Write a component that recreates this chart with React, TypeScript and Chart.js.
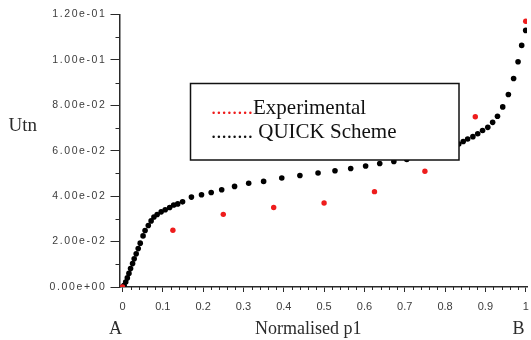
import React, { useEffect, useRef } from 'react';
import { Chart, registerables, LinearScale } from 'chart.js';

// Normalised position along p1 (A -> B)
const quickX = [
  0, 0.004, 0.008, 0.012, 0.016, 0.02, 0.025, 0.029, 0.034, 0.039, 0.044, 0.051, 0.056, 0.064,
  0.071, 0.078, 0.086, 0.096, 0.106, 0.117, 0.127, 0.137, 0.149, 0.171, 0.196, 0.22, 0.246,
  0.278, 0.313, 0.35, 0.395, 0.44, 0.485, 0.527, 0.566, 0.603, 0.638, 0.673, 0.705, 0.734,
  0.76, 0.783, 0.803, 0.82, 0.834, 0.845, 0.856, 0.869, 0.881, 0.893, 0.906, 0.918, 0.93,
  0.943, 0.957, 0.97, 0.981, 0.99, 1.0,
];
// QUICK scheme prediction of Utn
const quickUtn = [
  0, 0.0008, 0.0022, 0.004, 0.006, 0.0081, 0.0103, 0.0124, 0.0146, 0.0169, 0.0193, 0.0225,
  0.0249, 0.0271, 0.0291, 0.0308, 0.0319, 0.0331, 0.034, 0.035, 0.0361, 0.0366, 0.0375, 0.0396,
  0.0406, 0.0416, 0.0428, 0.0443, 0.0457, 0.0465, 0.048, 0.0491, 0.0502, 0.0512, 0.0522, 0.0533,
  0.0544, 0.0553, 0.0562, 0.0572, 0.0582, 0.0593, 0.0605, 0.0618, 0.063, 0.0641, 0.0652, 0.0662,
  0.0675, 0.0689, 0.0703, 0.0725, 0.0752, 0.0793, 0.0848, 0.0918, 0.0992, 0.1064, 0.113,
];
// Experimental measurements
const expX = [0, 0.125, 0.25, 0.375, 0.5, 0.625, 0.75, 0.875, 1.0];
const expUtn = [0, 0.025, 0.032, 0.035, 0.037, 0.042, 0.051, 0.075, 0.117];

const xTickValues = [0, 0.1, 0.2, 0.3, 0.4, 0.5, 0.6, 0.7, 0.8, 0.9, 1];
const xTickLabels = ['0', '0.1', '0.2', '0.3', '0.4', '0.5', '0.6', '0.7', '0.8', '0.9', '1'];
const yTickValues = [0, 0.02, 0.04, 0.06, 0.08, 0.1, 0.12];
const yTickLabels = ['0.00e+00', '2.00e-02', '4.00e-02', '6.00e-02', '8.00e-02', '1.00e-01', '1.20e-01'];
const xMinorStep = 0.02;
const yMinorStep = 0.01;

const legendLines = [
  { dots: '........', dotColor: '#ee1c1c', text: 'Experimental' },
  { dots: '........', dotColor: '#111111', text: ' QUICK Scheme' },
];

const RED = '#ee1c1c';
const AXIS = '#2a2a2a';
const SERIF = '"Liberation Serif", "Times New Roman", serif';
const SANS = '"Liberation Sans", Arial, sans-serif';

// Linear scale whose tick labels are drawn with extra letter spacing
class SpacedLinearScale extends LinearScale {
  static id = 'spacedLinear';
  static defaults = LinearScale.defaults;
  drawLabels(area: any) {
    const ctx: any = this.ctx;
    ctx.save();
    ctx.letterSpacing = (this.options as any).labelSpacing || '0px';
    super.drawLabels(area);
    ctx.restore();
  }
}

Chart.register(...registerables, SpacedLinearScale);

const overlayPlugin = {
  id: 'overlay',
  afterDatasetsDraw(chart: any) {
    const ctx = chart.ctx;
    // legend box
    ctx.save();
    ctx.fillStyle = '#ffffff';
    ctx.fillRect(190.5, 83.5, 268.5, 76.5);
    ctx.strokeStyle = '#111';
    ctx.lineWidth = 1.5;
    ctx.strokeRect(190.5, 83.5, 268.5, 76.5);
    ctx.font = `21px ${SERIF}`;
    ctx.textBaseline = 'alphabetic';
    legendLines.forEach((ln, i) => {
      const y = 114 + i * 24.3;
      let x = 211;
      ctx.fillStyle = ln.dotColor;
      ctx.fillText(ln.dots, x, y);
      x += ctx.measureText(ln.dots).width;
      ctx.fillStyle = '#111';
      ctx.fillText(ln.text, x, y);
    });
    ctx.restore();
  },
  afterDraw(chart: any) {
    const ctx = chart.ctx;
    const xs = chart.scales.x;
    const ys = chart.scales.y;
    const area = chart.chartArea;
    ctx.save();
    ctx.strokeStyle = AXIS;
    ctx.lineWidth = 1;
    // minor ticks
    ctx.beginPath();
    for (let i = 1; i < 50; i++) {
      if (i % 5 === 0) continue;
      const px = Math.round(xs.getPixelForValue(i * xMinorStep)) + 0.5;
      ctx.moveTo(px, area.bottom);
      ctx.lineTo(px, area.bottom + 3);
    }
    for (let i = 1; i < 12; i += 2) {
      const py = Math.round(ys.getPixelForValue(i * yMinorStep)) + 0.5;
      ctx.moveTo(area.left, py);
      ctx.lineTo(area.left - 4, py);
    }
    ctx.stroke();
    // titles
    ctx.fillStyle = '#2b2b2b';
    ctx.font = `18px ${SERIF}`;
    ctx.textBaseline = 'alphabetic';
    ctx.fillText('A', 109, 333.5);
    ctx.fillText('B', 512.5, 333.5);
    ctx.fillText('Normalised p1', 255, 334);
    ctx.font = `19px ${SERIF}`;
    ctx.fillText('Utn', 8.5, 131);
    ctx.restore();
  },
};

export default function App() {
  const canvasRef = useRef<HTMLCanvasElement | null>(null);

  useEffect(() => {
    if (!canvasRef.current) return;
    const chart = new Chart(canvasRef.current, {
      type: 'scatter',
      data: {
        datasets: [
          {
            label: 'Experimental',
            data: expX.map((x, i) => ({ x, y: expUtn[i] })),
            backgroundColor: RED,
            borderWidth: 0,
            pointRadius: 2.7,
          },
          {
            label: 'QUICK Scheme',
            data: quickX.map((x, i) => ({ x, y: quickUtn[i] })),
            backgroundColor: '#000000',
            borderWidth: 0,
            pointRadius: 2.8,
          },
        ],
      },
      options: {
        responsive: false,
        animation: false,
        devicePixelRatio: 1,
        layout: { padding: { left: 0, top: 14.5, right: 2, bottom: 0 } },
        plugins: { legend: { display: false }, tooltip: { enabled: false } },
        scales: {
          x: {
            type: 'linear',
            min: -0.0074,
            max: 1.0032,
            bounds: 'data',
            afterBuildTicks: (s: any) => {
              s.ticks = xTickValues.map((v) => ({ value: v }));
            },
            afterFit: (s: any) => {
              s.height = 53;
              s.paddingLeft = 0;
              s.paddingRight = 0;
            },
            ticks: {
              autoSkip: false,
              maxRotation: 0,
              padding: 8,
              color: '#3c3c3c',
              font: { family: SANS, size: 11 },
              callback: (_v: any, i: number) => xTickLabels[i],
            },
            grid: { drawOnChartArea: false, drawTicks: true, tickLength: 5, color: AXIS, lineWidth: 1 },
            border: { display: true, color: AXIS, width: 1.5 },
          },
          y: {
            type: 'spacedLinear' as any,
            min: 0,
            max: 0.12,
            bounds: 'data',
            afterBuildTicks: (s: any) => {
              s.ticks = yTickValues.map((v) => ({ value: v }));
            },
            afterFit: (s: any) => {
              s.width = 119.5;
              s.paddingTop = 0;
              s.paddingBottom = 0;
            },
            labelSpacing: '1.6px',
            ticks: {
              autoSkip: false,
              padding: 4,
              color: '#3c3c3c',
              font: { family: SANS, size: 10.5 },
              callback: (_v: any, i: number) => yTickLabels[i],
            },
            grid: { drawOnChartArea: false, drawTicks: true, tickLength: 9, color: AXIS, lineWidth: 1 },
            border: { display: true, color: AXIS, width: 1.5 },
          } as any,
        },
      },
      plugins: [overlayPlugin],
    });
    return () => chart.destroy();
  }, []);

  return (
    <div style={{ position: 'absolute', left: 0, top: 0, width: 531, height: 340, background: '#fff' }}>
      <canvas ref={canvasRef} width={531} height={340} style={{ display: 'block' }} />
    </div>
  );
}
